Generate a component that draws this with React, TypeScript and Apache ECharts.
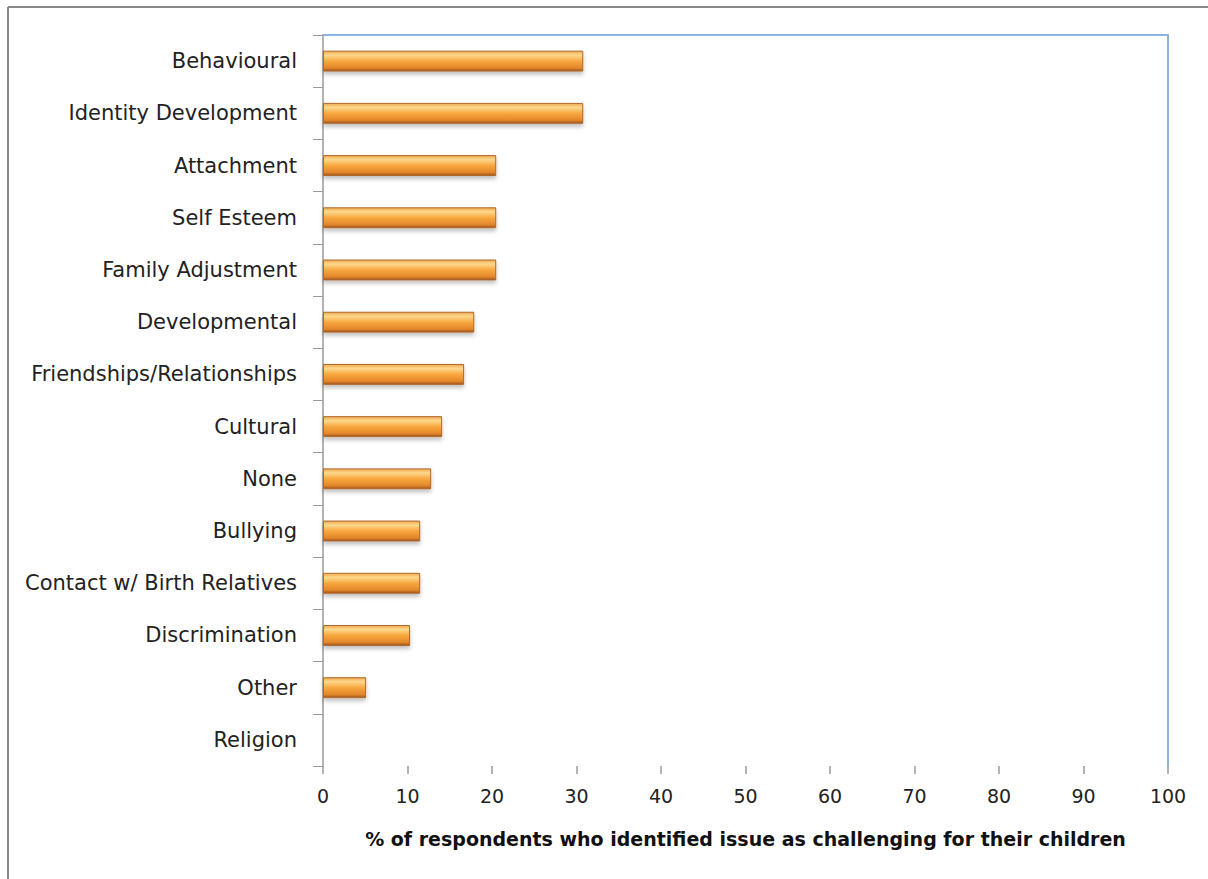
import React, { useEffect, useRef } from "react";
import * as echarts from "echarts";

const categories = [
  "Behavioural",
  "Identity Development",
  "Attachment",
  "Self Esteem",
  "Family Adjustment",
  "Developmental",
  "Friendships/Relationships",
  "Cultural",
  "None",
  "Bullying",
  "Contact w/ Birth Relatives",
  "Discrimination",
  "Other",
  "Religion",
];

const values = [30.8, 30.8, 20.5, 20.5, 20.5, 17.9, 16.7, 14.1, 12.8, 11.5, 11.5, 10.3, 5.1, 0];

const xTicks = { min: 0, max: 100, interval: 10 };
const axisTitle = "% of respondents who identified issue as challenging for their children";

export default function App() {
  const ref = useRef<HTMLDivElement>(null);
  useEffect(() => {
    if (!ref.current) return;
    const chart = echarts.init(ref.current, null, { renderer: "svg" });
    const font = "'DejaVu Sans', 'Noto Sans', sans-serif";
    chart.setOption({
      animation: false,
      backgroundColor: "#ffffff",
      grid: { left: 323, top: 35, right: 40, bottom: 113, containLabel: false },
      graphic: [
        { type: "line", shape: { x1: 8, y1: 7, x2: 1208, y2: 7 }, style: { stroke: "#878787", lineWidth: 2 } },
        { type: "line", shape: { x1: 8, y1: 7, x2: 8, y2: 879 }, style: { stroke: "#878787", lineWidth: 2 } },
      ],
      xAxis: [
        {
          type: "value",
          position: "bottom",
          min: xTicks.min,
          max: xTicks.max,
          interval: xTicks.interval,
          axisLine: { show: false, onZero: false },
          axisTick: { show: true, length: 8, lineStyle: { color: "#9a9a9a", width: 1.5 } },
          splitLine: { show: false },
          axisLabel: { fontSize: 19, color: "#222", margin: 20, fontFamily: font },
          name: axisTitle,
          nameLocation: "middle",
          nameGap: 63,
          nameTextStyle: { fontSize: 19, fontWeight: "bold", color: "#111", fontFamily: font },
        },
        {
          type: "value",
          position: "top",
          min: xTicks.min,
          max: xTicks.max,
          axisLine: { show: true, onZero: false, lineStyle: { color: "#8db3e2", width: 2 } },
          axisTick: { show: false },
          axisLabel: { show: false },
          splitLine: { show: false },
        },
      ],
      yAxis: [
        {
          type: "category",
          data: categories,
          inverse: true,
          position: "right",
          axisLine: { show: true, onZero: false, lineStyle: { color: "#8db3e2", width: 2 } },
          axisTick: { show: false },
          axisLabel: { show: false },
        },
        {
          type: "category",
          data: categories,
          inverse: true,
          position: "left",
          axisLine: { show: true, onZero: false, lineStyle: { color: "#9a9a9a", width: 1.5 } },
          axisTick: { show: true, length: 10, alignWithLabel: false, lineStyle: { color: "#9a9a9a", width: 1 } },
          axisLabel: { fontSize: 21, color: "#222", margin: 26, fontFamily: font },
        },
      ],
      series: [
        {
          type: "bar",
          data: values,
          xAxisIndex: 0,
          yAxisIndex: 1,
          barWidth: "40%",
          itemStyle: {
            color: new echarts.graphic.LinearGradient(0, 0, 0, 1, [
              { offset: 0, color: "#f0a94f" },
              { offset: 0.2, color: "#fdd88c" },
              { offset: 0.5, color: "#f8a73e" },
              { offset: 0.85, color: "#e3862a" },
              { offset: 1, color: "#9a5420" },
            ]),
            borderColor: "#b0682a",
            borderWidth: 1,
            shadowColor: "rgba(0,0,0,0.25)",
            shadowBlur: 4,
            shadowOffsetY: 3,
          },
        },
      ],
    });
    return () => chart.dispose();
  }, []);
  return <div ref={ref} style={{ position: "fixed", left: 0, top: 0, width: 1208, height: 879 }} />;
}
